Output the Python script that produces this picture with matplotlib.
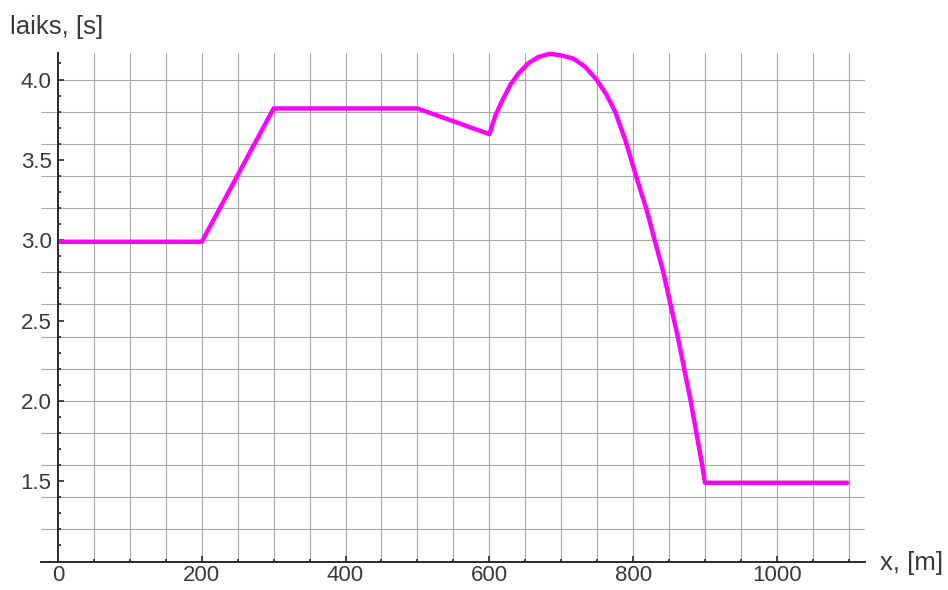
import numpy as np
import matplotlib
matplotlib.use("Agg")
import matplotlib.pyplot as plt
from matplotlib.ticker import FixedLocator, FormatStrFormatter

# ---------------------------------------------------------------- data
x_m = [0, 200, 300, 500, 600, 608, 617, 629, 640, 654, 668, 684, 700, 717,
       733, 749, 763, 775, 789, 804, 818, 830, 842, 852, 862, 871, 880, 888,
       896, 900, 1100]
t_s = [2.99, 2.99, 3.82, 3.82, 3.66, 3.77, 3.86, 3.965, 4.035, 4.10, 4.14,
       4.16, 4.15, 4.13, 4.08, 4.00, 3.905, 3.80, 3.625, 3.40, 3.20, 3.00,
       2.80, 2.60, 2.40, 2.20, 2.00, 1.80, 1.60, 1.49, 1.49]

x_major = [0, 200, 400, 600, 800, 1000]
x_minor = list(range(50, 1101, 50))
y_major = [1.5, 2.0, 2.5, 3.0, 3.5, 4.0]
y_minor = [round(1.1 + 0.1 * i, 1) for i in range(31)]
x_grid = list(range(50, 1101, 50))
y_grid = [round(1.2 + 0.2 * i, 1) for i in range(15)]

X_LABEL = "x, [m]"
Y_LABEL = "laiks, [s]"

# ---------------------------------------------------------------- style
plt.rcParams["font.family"] = ["Liberation Sans", "DejaVu Sans"]
TXT = "#3a3a3a"
GRID = "#a8a8a8"
LINE = "#ff00ff"

W, H = 948, 590
fig = plt.figure(figsize=(W / 100, H / 100), dpi=100)
left_px, right_px, top_px, bot_px = 41, 865, 53, 561.5
ax = fig.add_axes([left_px / W, (H - bot_px) / H,
                   (right_px - left_px) / W, (bot_px - top_px) / H])

XMIN, XMAX = -23.6, 1122.5
YMIN, YMAX = 1.0, 4.165
ax.set_xlim(XMIN, XMAX)
ax.set_ylim(YMIN, YMAX)

# grid: horizontal lines under a tick label start at the axis
for yv in y_grid:
    x0 = 0 if any(abs(yv - m) < 1e-9 for m in y_major) else XMIN
    ax.plot([x0, XMAX], [yv, yv], color=GRID, lw=0.8, zorder=1,
            solid_capstyle="butt")
for xv in x_grid:
    ax.plot([xv, xv], [YMIN, YMAX], color=GRID, lw=0.8, zorder=1,
            solid_capstyle="butt")

ax.plot(x_m, t_s, color=LINE, lw=3.2, zorder=3,
        solid_joinstyle="round", solid_capstyle="butt", clip_on=False)

# axes
for side in ("top", "right"):
    ax.spines[side].set_visible(False)
ax.spines["left"].set_position(("data", 0))
for side in ("left", "bottom"):
    ax.spines[side].set_color("#2a2a2a")
    ax.spines[side].set_linewidth(1.4)
    ax.spines[side].set_zorder(4)

ax.xaxis.set_major_locator(FixedLocator(x_major))
ax.xaxis.set_minor_locator(FixedLocator(x_minor))
ax.yaxis.set_major_locator(FixedLocator(y_major))
ax.yaxis.set_minor_locator(FixedLocator(y_minor))
ax.yaxis.set_major_formatter(FormatStrFormatter("%.1f"))

ax.tick_params(which="both", direction="in", color="#2a2a2a",
               width=1.2, labelcolor=TXT, labelsize=16)
ax.tick_params(which="major", length=4.5)
ax.tick_params(which="minor", length=2.5)
ax.tick_params(axis="x", which="major", pad=2.5)
ax.tick_params(axis="y", which="major", pad=4.5)

fig.text(10 / W, 1 - 27 / H, Y_LABEL, fontsize=18.5, color=TXT,
         ha="left", va="center")
fig.text(880 / W, 1 - 563 / H, X_LABEL, fontsize=18.5, color=TXT,
         ha="left", va="center")

fig.savefig("out.png", dpi=100)
